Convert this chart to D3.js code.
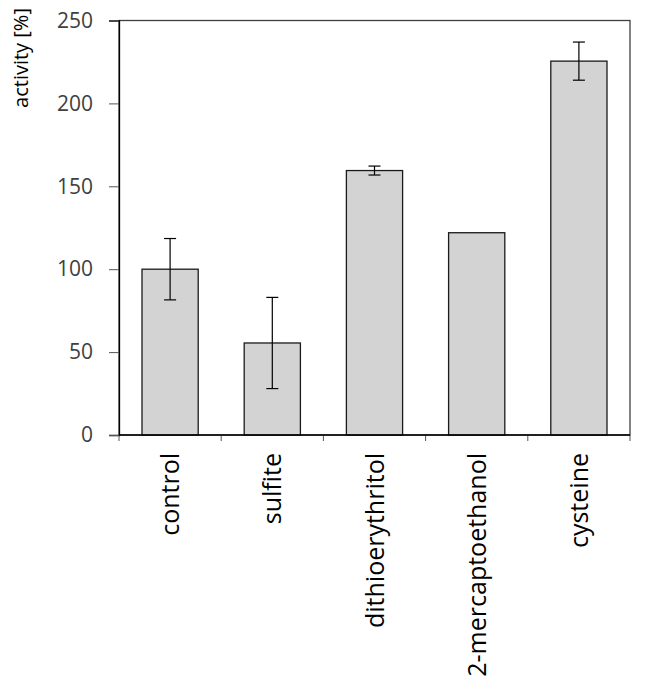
<!DOCTYPE html>
<html>
<head>
<meta charset="utf-8">
<script src="https://cdn.jsdelivr.net/npm/d3@7"></script>
<style>
  body { margin: 0; background: #fff; }
  text { font-family: "Open Sans", sans-serif; }
</style>
</head>
<body>
<script>
var categories = ["control", "sulfite", "dithioerythritol", "2-mercaptoethanol", "cysteine"];
var activity = [100, 55.5, 159.5, 122, 225.5];
var errors = [18.5, 27.5, 2.7, 0, 11.5];
var yTicks = [0, 50, 100, 150, 200, 250];

var w = 645, h = 693;
var mLeft = 119, mRight = 630, mTop = 20.5, mBottom = 435;

var svg = d3.select("body").append("svg")
    .attr("width", w)
    .attr("height", h);

var x = d3.scaleBand()
    .domain(categories)
    .range([mLeft, mRight])
    .paddingInner(0.45)
    .paddingOuter(0.225);

var y = d3.scaleLinear()
    .domain([0, 250])
    .range([mBottom, mTop]);

// frame
svg.append("rect")
    .attr("x", mLeft)
    .attr("y", mTop)
    .attr("width", mRight - mLeft)
    .attr("height", mBottom - mTop)
    .attr("fill", "none")
    .attr("stroke", "#404040")
    .attr("stroke-width", 1.3);

// bars
svg.selectAll("rect.bar")
    .data(categories)
    .enter()
    .append("rect")
    .attr("class", "bar")
    .attr("x", function (d) { return x(d); })
    .attr("y", function (d, i) { return y(activity[i]); })
    .attr("width", x.bandwidth())
    .attr("height", function (d, i) { return mBottom - y(activity[i]); })
    .attr("fill", "#d3d3d3")
    .attr("stroke", "#1a1a1a")
    .attr("stroke-width", 1.3);

// error bars
var eb = svg.selectAll("g.err")
    .data(categories.filter(function (d, i) { return errors[i] > 0; }))
    .enter()
    .append("g")
    .attr("class", "err")
    .attr("stroke", "#000")
    .attr("stroke-width", 1.2);

eb.each(function (d) {
    var i = categories.indexOf(d);
    var cx = x(d) + x.bandwidth() / 2;
    var g = d3.select(this);
    g.append("line")
        .attr("x1", cx).attr("x2", cx)
        .attr("y1", y(activity[i] + errors[i]))
        .attr("y2", y(activity[i] - errors[i]));
    [activity[i] + errors[i], activity[i] - errors[i]].forEach(function (v) {
        g.append("line")
            .attr("x1", cx - 6).attr("x2", cx + 6)
            .attr("y1", y(v)).attr("y2", y(v));
    });
});

// y axis
var yAxis = svg.append("g")
    .attr("transform", "translate(" + mLeft + ",0)")
    .call(d3.axisLeft(y).tickValues(yTicks).tickSize(10).tickPadding(16));
yAxis.select(".domain").attr("stroke", "#000").attr("stroke-width", 1.3);
yAxis.selectAll(".tick line").attr("stroke", "#555");
yAxis.selectAll(".tick text")
    .attr("font-size", 21)
    .attr("fill", "#404040")
    .attr("font-family", "Open Sans, sans-serif");

// x axis ticks at band boundaries
var xBounds = categories.map(function (d) { return x(d) - x.step() * x.paddingInner() / 2; });
xBounds.push(mRight);
svg.selectAll("line.xtick")
    .data(xBounds)
    .enter()
    .append("line")
    .attr("class", "xtick")
    .attr("x1", function (d) { return d; })
    .attr("x2", function (d) { return d; })
    .attr("y1", mBottom)
    .attr("y2", mBottom + 6)
    .attr("stroke", "#555");

svg.append("line")
    .attr("x1", mLeft).attr("x2", mRight)
    .attr("y1", mBottom).attr("y2", mBottom)
    .attr("stroke", "#000")
    .attr("stroke-width", 1.3);

// category labels
svg.selectAll("text.cat")
    .data(categories)
    .enter()
    .append("text")
    .attr("class", "cat")
    .attr("transform", function (d) {
        return "translate(" + (x(d) + x.bandwidth() / 2 + 9) + ",453) rotate(-90)";
    })
    .attr("text-anchor", "end")
    .attr("font-size", 25)
    .attr("fill", "#000")
    .text(function (d) { return d; });

// y label
svg.append("text")
    .attr("transform", "translate(28,58) rotate(-90)")
    .attr("text-anchor", "middle")
    .attr("font-size", 20)
    .attr("fill", "#000")
    .text("activity [%]");
</script>
</body>
</html>
